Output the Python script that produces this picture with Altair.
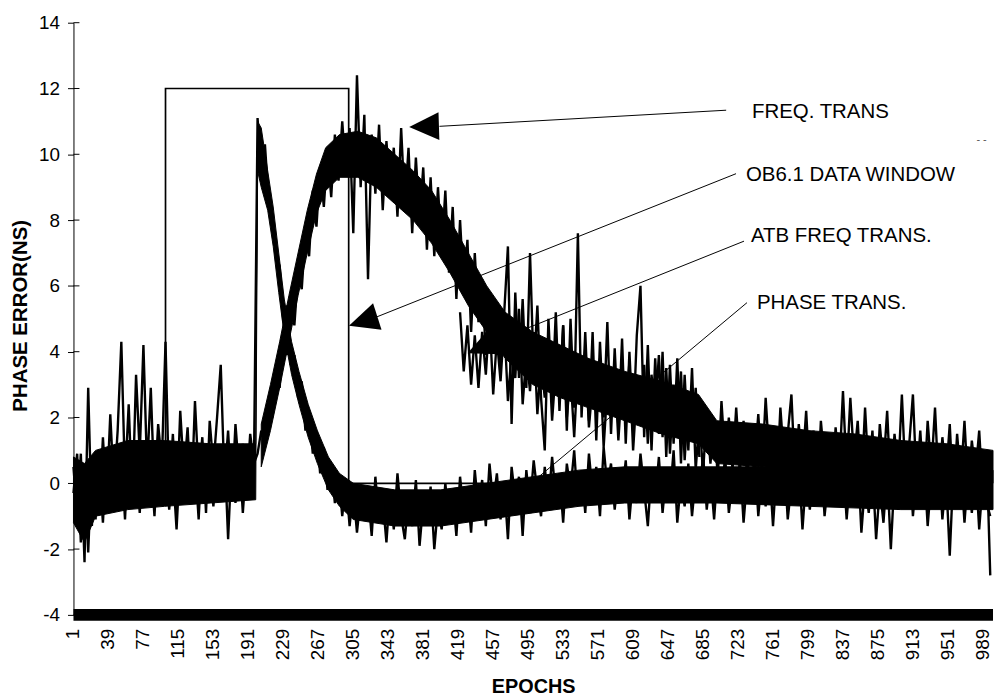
import altair as alt
import pandas as pd

# ---------------- data ----------------
FONT = "Liberation Sans"

# sampled every 4 epochs: 1, 5, 9, ..., 997
sample_epochs = list(range(1, 1000, 4))

freq_trans = [
    0.5, -1.0, 0.9, -2.4, 2.9, -1.3, 0.8, -0.9, 1.4, -0.5,
    2.1, -0.2, 1.6, 4.3, 0.1, 2.4, -0.6, 3.3, 0.9, 4.2,
    0.4, 2.9, -0.3, 1.8, 0.6, 4.3, -0.4, 1.5, -0.8, 2.2,
    0.3, 1.7, -0.6, 2.5, 0.2, 1.4, -0.9, 1.9, 0.5, 2.0,
    3.6, 0.1, 1.6, -0.5, 1.8, 0.3, 1.2, -0.2, 1.5, 0.6,
    0.9, 1.6, 1.2, 2.4, 2.0, 3.4, 2.9, 4.6, 3.9, 5.4,
    4.8, 6.4, 5.9, 7.6, 6.9, 8.9, 7.8, 9.6, 8.4, 10.1,
    8.7, 10.6, 9.2, 11.0, 9.4, 10.8, 7.6, 12.4, 9.0, 11.2,
    6.2, 10.6, 8.8, 10.9, 8.3, 10.4, 8.9, 10.2, 8.1, 10.8,
    8.4, 10.2, 7.6, 9.9, 8.0, 9.6, 7.1, 9.3, 6.9, 9.0,
    7.0, 8.9, 6.4, 8.4, 5.6, 8.0, 5.9, 7.4, 4.6, 7.0,
    4.9, 6.2, 3.9, 5.8, 4.2, 5.5, 3.6, 5.2, 7.2, 1.8,
    5.8, 3.2, 5.6, 2.9, 7.0, 3.4, 5.4, 2.6, 1.0, 5.0,
    2.5, 5.2, 2.2, 4.8, 1.6, 5.0, 2.3, 7.6, 2.0, 4.6,
    1.9, 4.6, 1.3, 4.3, 2.0, 4.9, 1.5, 4.1, 1.7, 4.4,
    1.2, 4.0, 1.6, 4.5, 6.0, 1.4, 4.2, 1.0, 3.8, 1.5,
    4.0, 0.8, 3.6, 1.2, 3.8, 0.6, 3.3, 1.0, 3.5, 0.4,
    2.0, 0.3, 2.2, 0.6, 1.8, 0.2, 2.5, 0.7, 2.0, 0.4,
    2.3, 0.5, 1.9, 0.1, 1.6, 0.6, 2.1, 0.3, 2.6, 0.8,
    1.7, -0.1, 2.3, 0.7, 1.5, 2.7, 0.2, 1.8, 0.5, 2.2,
    0.1, 1.6, -0.4, 1.9, 0.6, 1.4, -0.2, 1.7, 0.4, 2.8,
    0.3, 2.6, 0.7, 1.9, -0.1, 2.3, 0.2, 1.6, -0.4, 1.8,
    0.5, 2.2, -0.2, 1.5, 0.3, 2.7, 0.1, 1.2, 2.7, 0.0,
    1.6, -0.3, 1.9, 0.4, 2.3, -0.1, 1.4, 0.2, 1.8, -0.5,
    1.5, 0.1, 1.9, -0.2, 1.3, 0.3, 1.6, -0.4, 1.0, -2.8,
]

phase_trans = [
    -0.3, 0.9, -1.8, 0.4, -2.1, 0.7, -1.1, 0.5, -1.2, 0.9,
    -0.9, 1.0, -0.4, 0.8, -1.1, 1.3, -0.2, 0.6, -0.9, 1.1,
    -0.5, 0.7, -1.0, 1.2, -0.3, 0.9, -0.8, 0.4, -1.4, 0.8,
    -0.6, 1.0, -0.2, 0.7, -1.1, 1.2, -0.4, 0.9, -0.7, 0.6,
    -0.3, 1.1, -1.7, 0.8, -0.6, 1.0, -0.9, 0.7, -0.4, 0.3,
    11.1, 9.4, 10.3, 8.6, 8.1, 6.9, 6.6, 4.9, 5.4, 3.6,
    3.9, 2.6, 3.1, 1.6, 2.2, 0.9, 1.6, 0.3, 1.1, -0.2,
    0.6, -0.6, 0.3, -1.0, 0.1, -1.3, -0.2, -1.5, -0.4, -1.1,
    -0.3, -1.6, 0.2, -1.2, -0.5, -1.8, -0.2, -1.4, 0.3, -1.0,
    -1.7, -0.4, -1.3, 0.1, -1.9, -0.6, -1.2, -0.1, -2.0, -0.7,
    -1.4, 0.0, -1.1, -0.3, -1.6, 0.2, -0.9, -0.2, -1.5, 0.4,
    -0.8, 0.1, -1.3, 0.6, -0.6, 0.3, -1.1, 0.0, -1.7, 0.5,
    -0.5, 0.2, -1.6, 0.4, -0.7, 0.7, -0.3, -1.0, 0.5, -0.6,
    0.8, -0.4, 0.3, -1.2, 0.6, -0.2, 1.0, -0.7, 0.4, -0.9,
    0.9, -0.3, 0.5, -1.0, 1.1, -0.1, 0.6, -0.8, 0.3, -0.4,
    0.7, -1.1, 0.2, -0.6, 0.9, -0.2, -1.3, 0.4, -0.5, 0.8,
    -0.9, 0.3, -0.4, 1.0, -1.2, 0.1, -0.7, 0.6, -1.0, 0.2,
    -0.5, 0.9, -0.8, 0.3, -1.1, 0.5, -0.3, 0.8, -0.9, 0.1,
    -0.6, 0.7, -1.2, 0.2, -0.4, 0.9, -1.0, 0.3, -0.7, 0.5,
    -1.3, 0.4, -0.5, 0.8, -1.1, 0.0, -0.6, 0.6, -1.4, 0.2,
    -0.8, 0.5, -0.3, 0.9, -1.0, 0.1, -0.7, 0.4, -0.2, 0.7,
    -1.1, 0.3, -0.6, 0.8, -1.5, 0.0, -0.9, 0.5, -1.7, -0.1,
    -1.2, 0.4, -2.0, 0.2, -0.8, 0.6, -0.4, 0.9, -1.0, 0.3,
    -0.6, 0.7, -1.3, 0.1, -0.5, 0.8, -1.1, 0.2, -2.2, 0.4,
    -0.7, 0.6, -1.2, 0.3, -0.9, 0.5, -1.4, 0.1, -0.6, -1.0,
]

# ATB FREQ TRANS., epochs 421 ... 681 every 4
atb_epochs = list(range(421, 682, 4))
atb_freq_trans = [
    5.2, 3.4, 4.8, 3.0, 4.5, 2.9, 4.6, 3.3, 5.1, 2.7,
    4.4, 3.1, 4.9, 2.5, 4.0, 3.2, 5.3, 2.4, 3.9, 2.8,
    4.6, 2.1, 3.7, 2.6, 4.3, 1.9, 3.5, 2.7, 4.8, 2.0,
    3.3, 1.4, 3.6, 2.5, 4.1, 1.7, 3.0, 2.2, 3.8, 1.1,
    2.9, 2.0, 3.4, 1.3, 3.1, 1.9, 3.7, 1.0, 2.8, 2.2,
    3.6, 1.2, 3.3, 2.1, 3.9, 1.4, 3.5, 0.9, 3.0, 1.8,
    3.4, 0.7, 2.6, 1.5, 2.9, 0.8,
]

# solid-ink core of each noisy trace (lower / upper edge of the fully black band)
phase_core_epochs = [1, 13, 25, 60, 100, 150, 199, 201, 205, 212, 218, 224, 230,
                     238, 246, 256, 266, 278, 290, 305, 350, 400, 450, 500, 550,
                     600, 700, 800, 900, 1000]
phase_core_low = [-1.2, -1.8, -1.0, -0.8, -0.7, -0.6, -0.5, 9.5, 9.0, 8.3, 7.2, 5.8, 4.5,
                  3.3, 2.4, 1.4, 0.6, -0.2, -0.7, -1.1, -1.3, -1.3, -1.1, -0.9, -0.7,
                  -0.6, -0.6, -0.7, -0.8, -0.8]
phase_core_high = [0.8, 0.6, 1.0, 1.3, 1.3, 1.2, 1.2, 11.0, 10.8, 9.5, 8.4, 7.0, 5.6,
                   4.3, 3.4, 2.4, 1.6, 0.8, 0.3, 0.0, -0.2, -0.2, 0.0, 0.2, 0.4,
                   0.5, 0.5, 0.5, 0.4, 0.4]

freq_core_epochs = [205, 215, 225, 235, 245, 255, 265, 275, 290, 310, 330, 350, 370,
                    390, 410, 430, 450, 470, 500, 530, 560, 600, 640, 680, 700, 750,
                    800, 850, 900, 950, 1000]
freq_core_low = [0.5, 1.6, 2.9, 4.3, 5.7, 7.0, 8.2, 8.9, 9.3, 9.3, 9.0, 8.5, 8.0,
                 7.3, 6.4, 5.4, 4.6, 3.8, 3.0, 2.6, 2.3, 1.9, 1.5, 1.2, 0.6, 0.5,
                 0.4, 0.3, 0.2, 0.1, 0.0]
freq_core_high = [1.8, 3.0, 4.3, 5.7, 7.0, 8.3, 9.4, 10.2, 10.6, 10.7, 10.5, 10.0, 9.5,
                  8.9, 8.0, 7.0, 6.0, 5.2, 4.6, 4.2, 3.8, 3.4, 3.1, 2.7, 1.9, 1.8,
                  1.6, 1.5, 1.3, 1.2, 1.0]

# OB6.1 data window
window_epochs = [1, 101, 101, 300, 300, 679]
window_values = [0, 0, 12, 12, 0, 0]

x_tick_labels = [1, 39, 77, 115, 153, 191, 229, 267, 305, 343, 381, 419, 457,
                 495, 533, 571, 609, 647, 685, 723, 761, 799, 837, 875, 913,
                 951, 989]
y_ticks = [-4, -2, 0, 2, 4, 6, 8, 10, 12, 14]

# annotations (epoch, value coordinates)
label_texts = ["FREQ. TRANS", "OB6.1 DATA WINDOW", "ATB FREQ TRANS.", "PHASE TRANS."]
label_epochs = [738.1, 731.6, 737.0, 743.5]
label_values = [11.28, 9.38, 7.51, 5.49]

leader_from_epoch = [398.6, 330.7, 457.9, 503.2]
leader_from_value = [10.85, 5.06, 4.31, 0.12]
leader_to_epoch = [710.1, 720.8, 729.5, 732.7]
leader_to_value = [11.34, 9.41, 7.36, 5.49]

arrow_epochs = [381.9, 315.7, 443.9]
arrow_values = [10.84, 4.93, 4.13]
arrow_angles = [358.2, 342.2, 336.5]

# ---------------- layout ----------------
W, H = 927, 597
Y_MIN, Y_MAX = -4, 14
px_per_unit = H / (Y_MAX - Y_MIN)
x_label_value = Y_MIN - 14 / px_per_unit   # tick labels sit 14px under the axis

# ---------------- tables ----------------
series_df = pd.concat([
    pd.DataFrame({"epoch": sample_epochs, "value": freq_trans, "series": "FREQ. TRANS"}),
    pd.DataFrame({"epoch": sample_epochs, "value": phase_trans, "series": "PHASE TRANS."}),
    pd.DataFrame({"epoch": atb_epochs, "value": atb_freq_trans, "series": "ATB FREQ TRANS."}),
], ignore_index=True)

phase_core_df = pd.DataFrame({"epoch": phase_core_epochs, "low": phase_core_low,
                              "high": phase_core_high})
freq_core_df = pd.DataFrame({"epoch": freq_core_epochs, "low": freq_core_low,
                             "high": freq_core_high})

window_df = pd.DataFrame({"epoch": window_epochs, "value": window_values,
                          "i": list(range(len(window_epochs)))})
labels_df = pd.DataFrame({"epoch": label_epochs, "value": label_values, "text": label_texts})
leaders_df = pd.DataFrame({"e1": leader_from_epoch, "v1": leader_from_value,
                           "e2": leader_to_epoch, "v2": leader_to_value})
arrows_df = pd.DataFrame({"epoch": arrow_epochs, "value": arrow_values, "ang": arrow_angles})
yticks_df = pd.DataFrame({"tick": y_ticks})
band_df = pd.DataFrame({"yb": [Y_MIN]})
stray_df = pd.DataFrame({"epoch": [982.0], "value": [10.43], "text": ["- -"]})
xlab_df = pd.DataFrame({"epoch": x_tick_labels,
                        "value": [x_label_value] * len(x_tick_labels),
                        "text": [str(v) for v in x_tick_labels]})

x_scale = alt.Scale(domain=[1, 1000], nice=False, zero=False)
y_scale = alt.Scale(domain=[Y_MIN, Y_MAX], nice=False, zero=False)

x_axis = alt.Axis(labels=False, domain=False, ticks=False, grid=False,
                  title="EPOCHS", titleFont=FONT, titleFontSize=20, titleFontWeight="bold",
                  titleColor="black", titleY=78, titleBaseline="alphabetic")
y_axis = alt.Axis(values=y_ticks, labelFont=FONT, labelFontSize=19, labelColor="black",
                  labelExpr="'' + datum.value",
                  labelPadding=8, labelFlush=False, labelOverlap=False,
                  tickSize=6, tickColor="black",
                  domainColor="black", grid=False,
                  title="PHASE ERROR(NS)", titleFont=FONT, titleFontSize=20.6,
                  titleFontWeight="bold", titleColor="black",
                  titleX=-47, titleY=295, titleBaseline="alphabetic")

X = lambda f: alt.X(f, scale=x_scale, axis=x_axis)
Y = lambda f: alt.Y(f, scale=y_scale, axis=y_axis)


def core_layer(df):
    return alt.Chart(df).mark_area(fill="black", fillOpacity=1, stroke="black",
                                   strokeWidth=1).encode(
        x=X("epoch:Q"),
        y=alt.Y("low:Q", scale=y_scale, axis=y_axis, stack=None),
        y2="high:Q",
    )


phase_core = core_layer(phase_core_df)
freq_core = core_layer(freq_core_df)

series = alt.Chart(series_df).mark_line(color="black", strokeWidth=2.4).encode(
    x=X("epoch:Q"), y=Y("value:Q"), detail="series:N", order="epoch:Q",
)

window = alt.Chart(window_df).mark_line(color="black", strokeWidth=1.7).encode(
    x=X("epoch:Q"), y=Y("value:Q"), order="i:Q",
)

band = alt.Chart(band_df).mark_rule(color="black", strokeWidth=12).encode(
    y=Y("yb:Q"), x=alt.datum(1), x2=alt.datum(1000),
)

inner_ticks = alt.Chart(yticks_df).mark_rule(color="black", strokeWidth=1).encode(
    y=Y("tick:Q"), x=alt.datum(1), x2=alt.datum(7.5),
)

leaders = alt.Chart(leaders_df).mark_rule(color="black", strokeWidth=1).encode(
    x=X("e1:Q"), x2="e2:Q", y=Y("v1:Q"), y2="v2:Q",
)

arrows = alt.Chart(arrows_df).mark_point(
    shape="M -1 0 L 1 -0.93 L 1 0.93 Z", filled=True, color="black",
    size=900, opacity=1, strokeWidth=0,
).encode(
    x=X("epoch:Q"), y=Y("value:Q"), angle=alt.Angle("ang:Q", scale=None),
)

labels = alt.Chart(labels_df).mark_text(
    align="left", baseline="middle", font=FONT, fontSize=20.6, color="black",
).encode(x=X("epoch:Q"), y=Y("value:Q"), text="text:N")

stray = alt.Chart(stray_df).mark_text(
    align="left", baseline="middle", font=FONT, fontSize=11, color="#555555",
).encode(x=X("epoch:Q"), y=Y("value:Q"), text="text:N")

xlabels = alt.Chart(xlab_df).mark_text(
    align="right", baseline="middle", angle=270, font=FONT, fontSize=19, color="black",
).encode(x=X("epoch:Q"), y=Y("value:Q"), text="text:N")

chart = alt.layer(
    phase_core, freq_core, series, window, band, inner_ticks, leaders, arrows,
    labels, stray, xlabels
).properties(
    width=W, height=H,
    padding={"left": 66, "top": 12, "right": 1, "bottom": 84},
    autosize=alt.AutoSizeParams(type="none"),
    background="white",
).configure_view(stroke=None)

chart.save("out.html", embed_options={"renderer": "svg", "actions": False})
